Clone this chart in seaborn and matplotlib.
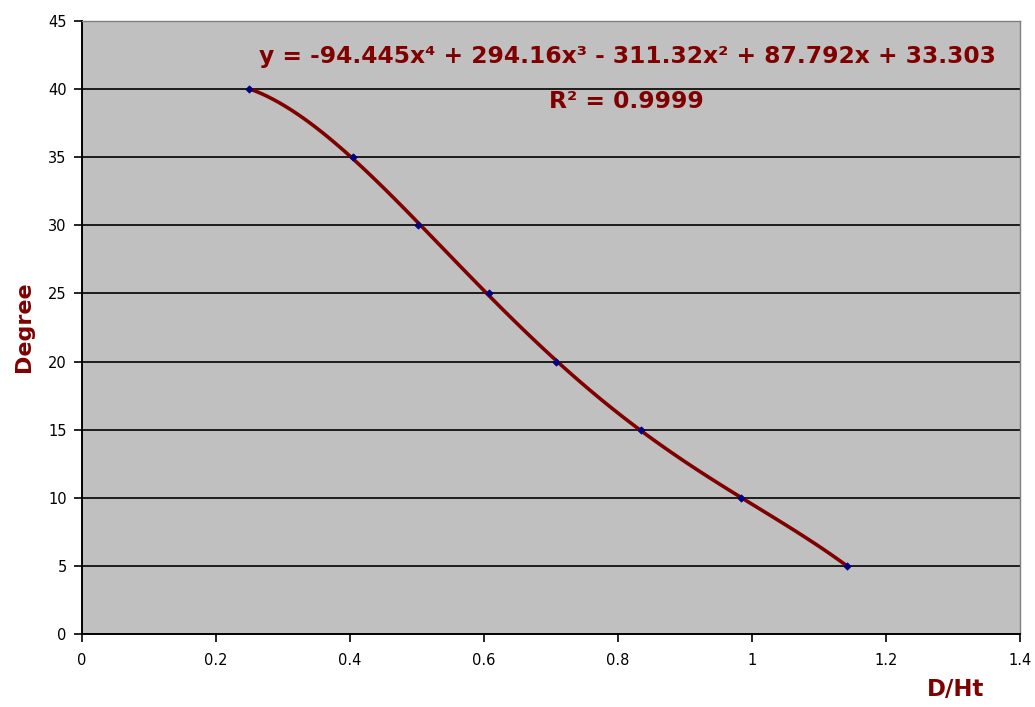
import matplotlib
matplotlib.use("Agg")
import matplotlib.pyplot as plt
import seaborn as sns
import pandas as pd

# data
d_ht = [0.25, 0.405, 0.501, 0.607, 0.708, 0.834, 0.983, 1.142]
degree = [40, 35, 30, 25, 20, 15, 10, 5]
x_ticks = [0, 0.2, 0.4, 0.6, 0.8, 1, 1.2, 1.4]
x_tick_labels = ["0", "0.2", "0.4", "0.6", "0.8", "1", "1.2", "1.4"]
y_ticks = [0, 5, 10, 15, 20, 25, 30, 35, 40, 45]
equation_text = "y = -94.445x\u2074 + 294.16x\u00b3 - 311.32x\u00b2 + 87.792x + 33.303"
r2_text = "R\u00b2 = 0.9999"

df = pd.DataFrame({"D/Ht": d_ht, "Degree": degree})

sns.set_theme(style="white")
plt.rcParams["font.family"] = ["DejaVu Sans"]

fig = plt.figure(figsize=(10.35, 7.07), dpi=100)
ax = fig.add_axes([82 / 1035, 1 - 634 / 707, (1020 - 82) / 1035, (634 - 21) / 707])
ax.set_facecolor("#C0C0C0")

dark_red = "#800000"

sns.regplot(data=df, x="D/Ht", y="Degree", order=4, ci=None, scatter=False,
            line_kws=dict(color=dark_red, lw=2.6, zorder=3), ax=ax)
sns.scatterplot(data=df, x="D/Ht", y="Degree", marker="D", s=14, color="#000080",
                edgecolor="#000080", linewidth=0.5, zorder=4, ax=ax)

ax.set_xlim(0, 1.4)
ax.set_ylim(0, 45)
ax.set_xticks(x_ticks)
ax.set_xticklabels(x_tick_labels)
ax.set_yticks(y_ticks)

for yv in y_ticks[1:-1]:
    ax.axhline(yv, color="black", lw=1.2, zorder=1)

for side in ["top", "right"]:
    ax.spines[side].set_color("#808080")
    ax.spines[side].set_linewidth(1.0)
for side in ["left", "bottom"]:
    ax.spines[side].set_color("black")
    ax.spines[side].set_linewidth(1.4)
    ax.spines[side].set_visible(True)

ax.tick_params(axis="both", which="major", direction="out", length=6, width=1.2,
               color="black", labelsize=10.5, labelcolor="black", pad=5,
               bottom=True, left=True)
ax.tick_params(axis="x", pad=8)

ax.set_xlabel("")
ax.set_ylabel("")
fig.text(24 / 1035, 1 - 327 / 707, "Degree", rotation=90, ha="center", va="center",
         fontsize=16, fontweight="bold", color=dark_red)
fig.text(984 / 1035, 1 - 690 / 707, "D/Ht", ha="right", va="center",
         fontsize=16.5, fontweight="bold", color=dark_red)

ax.text(0.814, 41.9, equation_text, ha="center", va="baseline", fontsize=16.8,
        fontweight="bold", color=dark_red, zorder=5)
ax.text(0.812, 38.6, r2_text, ha="center", va="baseline", fontsize=16.8,
        fontweight="bold", color=dark_red, zorder=5)

fig.savefig("out.png", dpi=100)
